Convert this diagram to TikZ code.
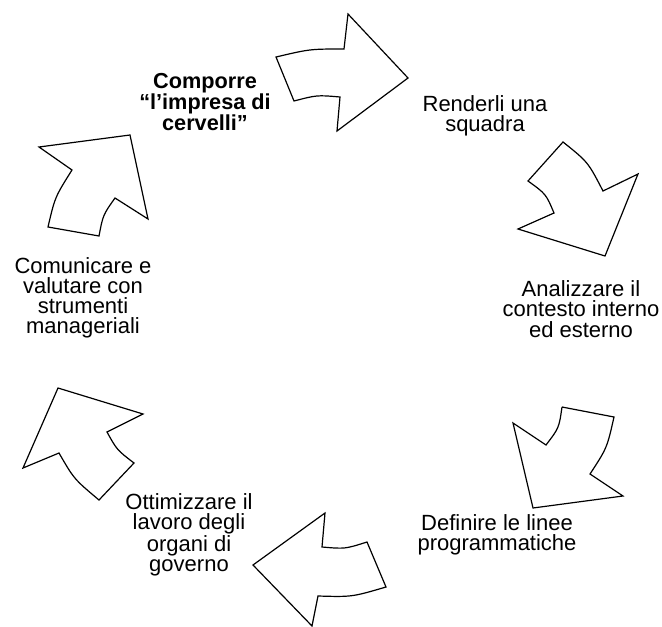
\documentclass[tikz,border=0pt]{standalone}
\usepackage{fontspec}
\setmainfont{Liberation Sans}
\begin{document}
\begin{tikzpicture}[x=1pt,y=-1pt,
  cyclearrow/.style={draw=black,fill=white,line width=1.2pt,line join=miter},
  steplabel/.style={align=center,inner sep=0pt,font=\fontsize{22}{20.2}\selectfont},
  keylabel/.style={steplabel,font=\fontsize{21.7}{20.2}\selectfont\bfseries}]
\useasboundingbox (0,0) rectangle (662,627);

% arrow 1 (top, pointing right)
\draw[cyclearrow] (276,57) .. controls (310,49) .. (344,49) -- (348,14) -- (408,78)
  -- (337,131) -- (340,97) .. controls (317,95) .. (294,101) -- cycle;

% arrow 2 (upper right, pointing down)
\draw[cyclearrow] (563,142) .. controls (588,162) .. (603,191) -- (638,174) -- (605,256)
  -- (518,229) -- (554,213) .. controls (546,194) .. (528,181) -- cycle;

% arrow 3 (lower right, pointing down-left)
\draw[cyclearrow] (562,407) -- (614,417) .. controls (607,448) .. (590,474) -- (623,496)
  -- (533,508) -- (513,423) -- (546,445) .. controls (559,428) .. (562,407);

% arrow 4 (bottom, pointing left)
\draw[cyclearrow] (253,565) -- (325,513) -- (322,547) .. controls (345,549) .. (367,542)
  -- (386,587) .. controls (352,597) .. (318,596) -- (312,626) -- cycle;

% arrow 5 (lower left, pointing up)
\draw[cyclearrow] (58,388) -- (143,414) -- (107,432) .. controls (117,450) .. (134,463)
  -- (99,500) .. controls (74,479) .. (59,453) -- (23,468) -- cycle;

% arrow 6 (upper left, pointing up-right)
\draw[cyclearrow] (39,147) -- (130,135) -- (148,219) -- (115,198) .. controls (103,215) .. (99,236)
  -- (48,227) .. controls (55,197) .. (72,170) -- cycle;

% step labels
\node[keylabel] (compose) at (205,102) {Comporre\\“l’impresa di\\cervelli”};
\node[steplabel] (team) at (485,116) {Renderli una\\squadra};
\node[steplabel] (context) at (581,309) {Analizzare il\\contesto interno\\ed esterno};
\node[steplabel] (lines) at (497,535) {Definire le linee\\programmatiche};
\node[steplabel] (govern) at (189,535) {Ottimizzare il\\lavoro degli\\organi di\\governo};
\node[steplabel] (tools) at (83,298) {Comunicare e\\valutare con\\strumenti\\manageriali};
\end{tikzpicture}
\end{document}
